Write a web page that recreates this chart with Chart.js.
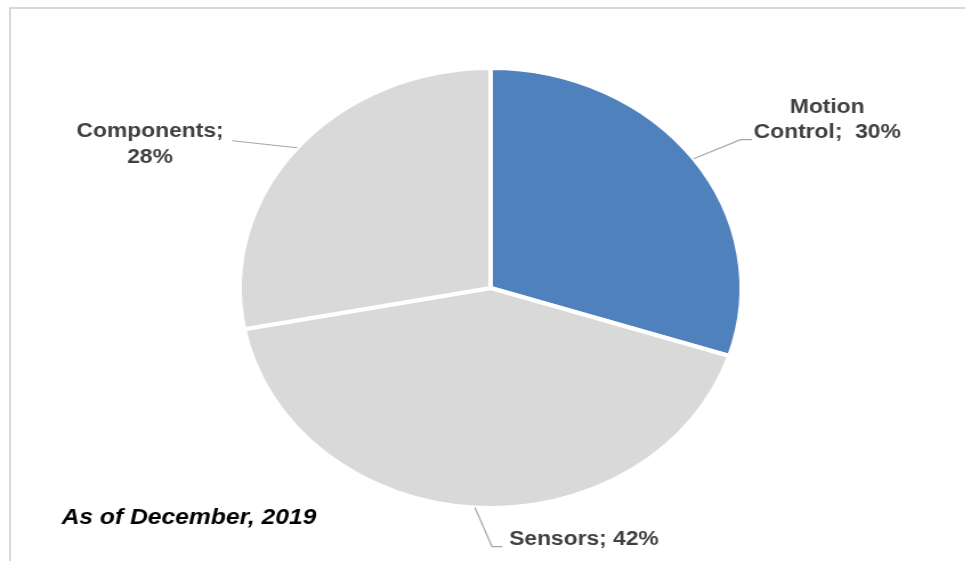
<!DOCTYPE html>
<html>
<head>
<meta charset="utf-8">
<script src="https://cdn.jsdelivr.net/npm/chart.js@4/dist/chart.umd.min.js"></script>
<style>
  html, body { margin: 0; padding: 0; background: #fff; }
  body { width: 965px; height: 561px; position: relative; overflow: hidden; }
  #frame {
    position: absolute; left: 9px; top: 7px; width: 980px; height: 600px;
    border-left: 2px solid #d9d9d9; border-top: 2px solid #d9d9d9;
  }
  /* the source picture is stretched sideways, so stretch the whole chart too */
  #wrap {
    position: absolute; left: 0; top: 0; width: 846px; height: 561px;
    transform: scaleX(1.141); transform-origin: 0 0;
  }
</style>
</head>
<body>
<div id="frame"></div>
<div id="wrap"><canvas id="pieChart" width="846" height="561"></canvas></div>
<script>
// data
const categories = ["Motion Control", "Sensors", "Components"];
const shares = [30, 42, 28];
const sliceColors = ["#4F81BD", "#D9D9D9", "#D9D9D9"];
const footnote = "As of December, 2019";

// where each label sits, relative to the point on the rim at the slice middle
const labelLayout = [
  { elbow: [41, -19], end: [51, -19], text: [117, -51], align: "center", lineGap: 25,
    lines: (l, v) => [l.split(" ")[0], l.split(" ").slice(1).join(" ") + ";  " + v + "%"] },
  { elbow: [15, 39], end: [24, 39], text: [30, 32], align: "left", lineGap: 25,
    lines: (l, v) => [l + "; " + v + "%"] },
  { elbow: [-57, -7], end: [-57, -7], text: [-129, -16], align: "center", lineGap: 26,
    lines: (l, v) => [l + ";", v + "%"] }
];

const pieLabels = {
  id: "pieLabels",
  afterDraw(chart) {
    const ctx = chart.ctx;
    const meta = chart.getDatasetMeta(0);
    ctx.save();
    meta.data.forEach((arc, i) => {
      const p = arc.getProps(["x", "y", "startAngle", "endAngle", "outerRadius"], true);
      const mid = (p.startAngle + p.endAngle) / 2;
      const ex = p.x + Math.cos(mid) * p.outerRadius;
      const ey = p.y + Math.sin(mid) * p.outerRadius;
      const lay = labelLayout[i];

      ctx.strokeStyle = "#a6a6a6";
      ctx.lineWidth = 1.2;
      ctx.beginPath();
      ctx.moveTo(ex, ey);
      ctx.lineTo(ex + lay.elbow[0], ey + lay.elbow[1]);
      ctx.lineTo(ex + lay.end[0], ey + lay.end[1]);
      ctx.stroke();

      ctx.fillStyle = "#404040";
      ctx.font = "bold 20px 'Liberation Sans', Arial, sans-serif";
      ctx.textAlign = lay.align;
      ctx.textBaseline = "middle";
      lay.lines(categories[i], shares[i]).forEach((t, k) => {
        ctx.fillText(t, ex + lay.text[0], ey + lay.text[1] + k * lay.lineGap);
      });
    });

    ctx.fillStyle = "#000";
    ctx.font = "italic bold 21.6px 'Liberation Sans', Arial, sans-serif";
    ctx.textAlign = "left";
    ctx.textBaseline = "alphabetic";
    ctx.fillText(footnote, 54, 524);
    ctx.restore();
  }
};

new Chart(document.getElementById("pieChart"), {
  type: "pie",
  data: {
    labels: categories,
    datasets: [{
      data: shares,
      backgroundColor: sliceColors,
      borderColor: "#ffffff",
      borderWidth: 4
    }]
  },
  options: {
    responsive: false,
    animation: false,
    devicePixelRatio: 1,
    layout: { padding: { left: 208, right: 194, top: 66, bottom: 51 } },
    plugins: {
      legend: { display: false },
      tooltip: { enabled: false }
    }
  },
  plugins: [pieLabels]
});
</script>
</body>
</html>
